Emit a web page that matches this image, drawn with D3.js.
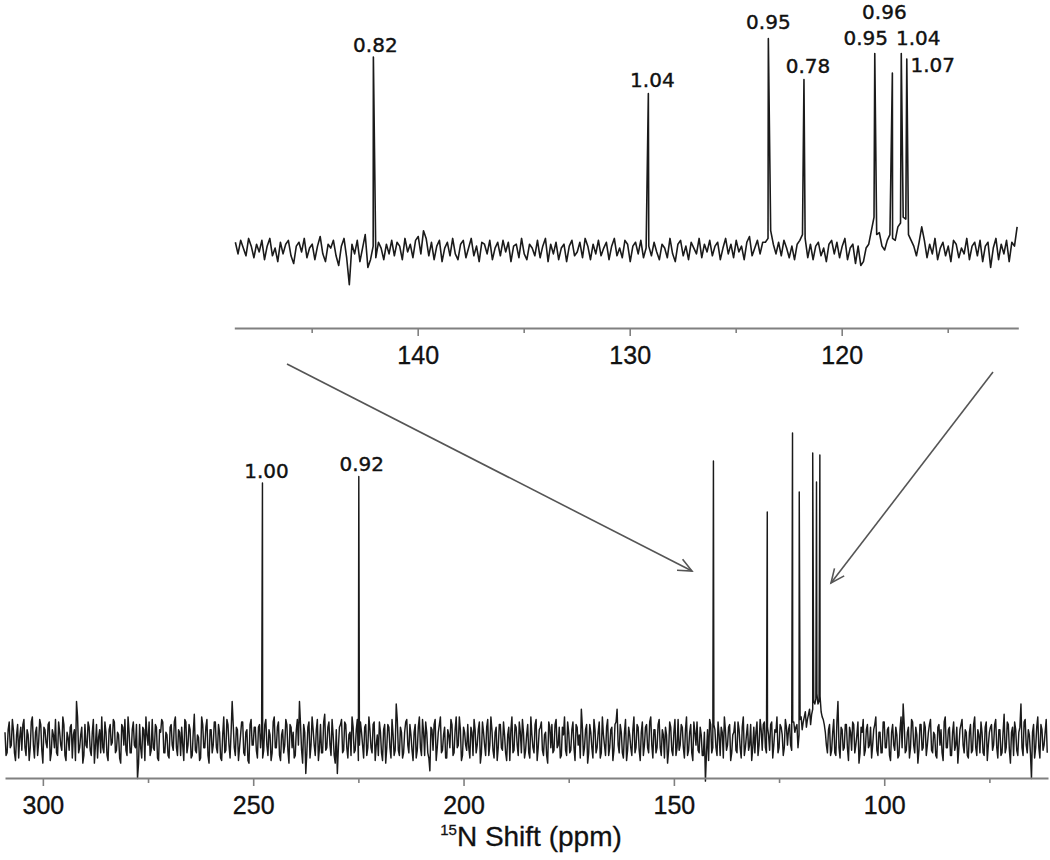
<!DOCTYPE html>
<html><head><meta charset="utf-8">
<script src="https://cdn.jsdelivr.net/npm/d3@7"></script>
<style>body{margin:0;background:#fff}</style>
</head><body><svg id="chart" width="1050" height="860"></svg>
<script>
// ---------- DATA ----------
// Main spectrum: baseline noise sampled every 0.5 ppm starting at 309 ppm (intensity units: peak "1.00" = 100)
const mainNoiseStart = 309, mainNoiseStep = 0.5;
const mainNoise = [
 3,-5,7,-2,4,-8,6,1,-4,8,-6,2,-3,9,-7,5,-1,6,-9,4,
 -3,7,-5,2,8,-6,3,-4,6,-8,1,5,-7,4,15,-5,2,-9,6,-3,
 5,-6,8,-2,-7,4,9,-5,3,-8,6,-1,7,-4,2,-9,5,8,-6,3,
 -5,7,-3,-15,6,-7,4,9,-2,-6,8,-4,5,-8,3,7,-5,2,-7,6,
 -4,9,-6,3,5,-8,7,-2,4,-6,10,-5,1,-7,6,-3,8,-9,4,-2,
 7,-5,3,-8,9,-4,6,-7,15,-3,5,-8,2,7,-6,4,-9,8,-2,5,
 -7,6,3,-4,8,-6,2,-5,9,-3,7,-8,4,-2,6,-9,5,3,-6,8,
 15,-4,6,-13,5,-7,9,-2,4,-8,6,-5,10,-3,7,-6,2,-9,-13,5,
 8,-4,6,-7,3,9,-5,4,-8,7,-2,5,-6,9,-3,6,-8,2,7,-5,
 4,-9,6,-3,8,-6,14,-4,5,-7,3,8,-5,2,-8,6,-4,9,-6,3,
 7,-5,-12,4,6,-8,3,9,-4,5,-7,2,8,-6,4,-3,9,-8,5,-2,
 6,-7,3,8,-5,4,-9,7,-2,5,-6,9,-4,3,-8,6,-3,7,-5,2,
 -8,9,-4,5,-6,3,8,-7,2,-5,9,-3,6,-8,4,7,-6,3,-9,5,
 6,-4,8,-2,-7,5,9,-6,3,-4,7,-8,5,2,12,-6,4,-9,6,-3,
 8,-5,3,-7,9,-2,5,-6,4,-8,6,12,-5,3,-7,8,-4,2,-6,9,
 -3,5,-8,7,-2,6,-5,9,-7,4,-3,8,-6,2,5,-9,7,-4,3,-6,
 8,-2,5,-7,9,-4,6,-8,3,7,-5,2,-6,-16,4,8,-5,6,-3,7,
 -6,3,9,-4,5,-8,2,7,-5,4,-7,9,-3,6,-2,-8,5,3,-6,8,
 -4,7,-5,2,6,-7,4,9,-3,5,-6,8,-2,6,-4,7,5,-3,8,4,
 9,5,10,6,12,14,18,15,11,8,3,-5,6,-4,8,-6,15,-7,4,-3,
 6,-8,3,7,-5,2,-9,5,8,-4,6,-2,-7,4,9,-6,3,-5,7,-3,
 5,-8,6,-4,2,-6,9,14,-5,3,-7,8,-2,5,-9,6,-4,7,-6,3,
 8,-5,2,-7,6,4,-8,9,-3,5,-6,7,-2,-9,4,8,-5,3,-7,6,
 -4,9,-6,2,7,-5,5,-8,3,6,-2,8,-7,4,-5,10,-3,6,-9,5,
 7,-4,3,14,-6,8,-5,2,-15,6,-3,9,-7,4,-2,8
];
// Main spectrum: interleaved noise samples at the half-steps (starting 308.75 ppm, every 0.5 ppm)
const mainNoiseMidStart = 308.75;
const mainNoiseMid = [
 -6,4,-3,8,-5,2,-7,5,6,-3,4,-8,7,-2,3,-6,8,-4,5,-1,
 6,-8,4,-3,-5,7,-2,9,-6,3,-4,6,2,-8,9,-3,5,-6,-2,7,
 -4,3,-9,6,1,-5,-3,7,-6,4,-2,8,-5,3,-7,6,-2,-4,9,-5,
 4,-2,6,-9,-3,5,-8,2,7,-4,-3,6,-7,4,8,-5,3,-6,5,-2,
 7,-3,4,-6,-2,8,-5,6,-7,3,-4,2,-8,9,-3,5,-6,4,-5,7,
 -3,6,-7,2,-5,8,-2,3,6,-6,4,-3,7,-5,3,-8,6,-2,5,-4,
 5,-3,-7,6,-2,4,-8,7,-3,5,-6,2,-5,8,-4,6,-3,-7,4,-2,
 6,-9,3,-5,7,-2,4,-6,8,-3,-5,7,-4,5,-2,8,-6,4,-3,6,
 -5,7,-3,2,-6,5,-4,8,-2,3,-7,6,-3,4,-5,7,-2,-6,3,-8,
 6,-3,5,-7,2,-4,8,-6,3,-5,7,-2,6,-4,3,-7,5,-3,8,-6,
 3,-7,5,-4,8,-3,6,-5,2,-7,4,-3,6,-5,9,-2,4,-6,3,-4,
 -3,5,-6,4,-2,7,-5,3,-6,8,-2,4,-7,5,-3,6,-4,2,-8,5,
 4,-5,6,-2,7,-5,3,-4,6,-7,2,-5,8,-3,5,-4,2,-6,7,-3,
 -5,6,-3,5,-6,2,-4,7,-5,4,-3,6,-2,-7,5,-3,6,-5,3,-7,
 4,-3,7,-5,2,-6,8,-3,5,-4,7,-2,6,-5,3,-8,5,-3,4,-5,
 6,-4,3,-6,5,-3,7,-2,4,-5,6,-3,4,-7,2,-4,5,-6,8,-3,
 -4,6,-3,4,-6,3,-5,7,-2,-4,5,-6,3,-5,-8,6,-3,4,-6,2,
 5,-7,4,-2,6,-5,3,-4,7,-3,5,-6,2,-4,6,-3,-5,7,-2,4,
 6,-3,5,-4,7,-2,3,-5,6,2,-3,5,4,-2,7,3,6,2,9,7,
 11,8,12,10,15,16,14,17,9,6,-2,4,-6,3,-5,7,-3,5,-4,6,
 -3,5,-4,6,-2,7,-5,3,-6,4,-3,5,-2,6,-4,3,-5,7,-3,4,
 -6,3,-2,5,-7,4,-3,6,-4,5,-3,7,-5,2,-4,6,-3,5,-2,6,
 -4,3,-6,5,-2,-5,7,-3,4,-6,3,-4,5,-3,6,-2,4,-6,3,-5,
 6,-3,4,-5,3,-6,7,-2,5,-4,6,-3,4,-6,3,-5,7,-4,3,-6,
 4,-6,5,-3,7,-2,4,-5,3,-7,5,-3,6,-4,3,-5
];
const mainPeakShifts  = [247.8, 224.9, 140.6, 127.8, 121.8, 120.2, 117.0, 116.1, 115.3];
const mainPeakHeights = [100, 102.5, 108.6, 88.7, 119.5, 96.5, 111.7, 100.4, 110.9];
const mainPeakLabels  = ["1.00", "0.92"];
const mainTicks = [300, 250, 200, 150, 100];
const mainMinorTicks = [275, 225, 175, 125, 75];

// Inset (expanded 148-112 ppm): noise sampled every 0.125 ppm from 148.6 ppm (intensity: 142 ppm peak = 100)
const insetNoiseStart = 148.6, insetNoiseStep = 0.125;
const insetNoise = [
 4,-2,5,1,-3,6,2,-4,3,-1,5,-5,2,6,-3,1,-6,4,-2,3,
 5,-3,-7,2,4,-1,6,-4,1,3,-5,2,7,-2,-6,3,1,5,-3,-8,
 2,6,-4,-18,3,-2,5,-6,1,8,-9,-5,2,-4,4,1,-5,3,-2,5,
 -3,4,2,-5,6,-1,3,-4,5,7,-2,10,6,-3,4,-5,2,5,-6,1,
 4,-3,6,-2,-5,3,5,-4,1,6,-3,2,-6,4,3,-2,5,-5,1,4,
 -3,5,-1,4,-6,2,3,-4,6,-2,-5,3,1,-3,5,-4,2,6,-6,3,
 -2,4,-5,1,3,-6,2,5,-3,-1,4,-4,6,2,-5,3,-2,5,-3,1,
 4,-5,2,6,-3,1,-4,5,3,-6,2,4,-2,5,-4,1,2,-3,4,-1,
 -5,3,1,-4,6,-2,-6,3,5,-3,2,-5,4,1,-2,6,-4,3,-1,5,
 -3,2,4,-5,1,6,-2,3,-4,5,-1,2,-5,4,7,-3,1,5,-2,4,
 4,6,10,3,-2,4,-3,5,1,-4,2,-5,3,5,8,6,-4,3,-5,2,
 4,-3,1,-6,3,5,-2,4,-4,2,6,-5,1,3,-7,2,-8,-6,1,3,
 10,17,8,9,2,0,5,8,6,5,12,14,17,16,8,5,2,-3,4,12,
 5,-4,3,-2,6,-5,1,4,-3,2,-6,5,3,-4,1,-2,6,-5,2,4,
 -3,5,-6,2,4,-9,1,6,-5,3,-2,5,-6,4,2,12
];
const insetPeakShifts  = [142.09, 129.12, 123.46, 121.78, 118.44, 117.61, 117.19, 116.93];
const insetPeakHeights = [100, 81, 109.5, 88.3, 101.8, 91.7, 101.8, 99];
const insetPeakLabels  = ["0.82", "1.04", "0.95", "0.78", "0.95", "0.96", "1.04", "1.07"];
const insetTicks = [140, 130, 120];
const insetMinorTicks = [145, 135, 125, 115];

// ---------- LAYOUT ----------
const svg = d3.select("#chart");
const axisColor = "#808080";
const traceColor = "#1a1a1a";
const tickFont = "'Liberation Sans', Arial, Helvetica, sans-serif";
const labelFont = "'DejaVu Sans', 'Lucida Grande', sans-serif";

const xMain = d3.scaleLinear().domain([309, 61.07]).range([5, 1048]);
const yMain = d3.scaleLinear().domain([0, 100]).range([740, 483]);
const mainAxisY = 778;

const xInset = d3.scaleLinear().domain([148.65, 111.67]).range([234.3, 1018.3]);
const yInset = d3.scaleLinear().domain([0, 100]).range([250, 57]);
const insetAxisY = 328;

function samples(start, step, noise) {
  return noise.map((v, i) => ({ ppm: start - i * step, v: v }));
}
function buildSpectrum(sampleSets, shifts, heights) {
  const pts = [].concat(...sampleSets);
  shifts.forEach((s, k) => pts.push({ ppm: s, v: heights[k] }));
  pts.sort((a, b) => b.ppm - a.ppm);
  return pts;
}

// ---------- INSET ----------
const insetData = buildSpectrum([samples(insetNoiseStart, insetNoiseStep, insetNoise)], insetPeakShifts, insetPeakHeights);
svg.append("path")
  .datum(insetData)
  .attr("fill", "none")
  .attr("stroke", traceColor)
  .attr("stroke-width", 1.6)
  .attr("stroke-linejoin", "round")
  .attr("d", d3.line().x(d => xInset(d.ppm)).y(d => yInset(d.v)));

function styleAxis(g, size) {
  g.select(".domain").attr("stroke", axisColor).attr("stroke-width", 2.2);
  g.selectAll(".tick line").attr("stroke", axisColor).attr("stroke-width", 1.6);
  g.selectAll(".tick text").attr("fill", "#111").attr("font-family", tickFont).attr("font-size", size)
    .attr("stroke", "#111").attr("stroke-width", 0.35);
}

const insetAxisG = svg.append("g").attr("transform", `translate(0,${insetAxisY})`)
  .call(d3.axisBottom(xInset).tickValues(insetTicks).tickSize(8).tickSizeOuter(0).tickPadding(10).tickFormat(d3.format("d")));
styleAxis(insetAxisG, 25);
const insetMinorG = svg.append("g").attr("transform", `translate(0,${insetAxisY})`)
  .call(d3.axisBottom(xInset).tickValues(insetMinorTicks).tickSize(5).tickSizeOuter(0).tickFormat(""));
insetMinorG.select(".domain").remove();
insetMinorG.selectAll(".tick line").attr("stroke", axisColor).attr("stroke-width", 1.6);

// inset peak labels (offsets/baselines are layout)
const insetLabelLayout = [
  { dx: 2, y: 52 }, { dx: 4, y: 87 }, { dx: 0, y: 29 }, { dx: 4, y: 73 },
  { dx: -9, y: 45 }, { dx: -8, y: 19 }, { dx: 17, y: 45 }, { dx: 26, y: 72 }
];
svg.append("g").selectAll("text")
  .data(insetPeakLabels)
  .join("text")
  .attr("x", (d, i) => xInset(insetPeakShifts[i]) + insetLabelLayout[i].dx)
  .attr("y", (d, i) => insetLabelLayout[i].y)
  .attr("text-anchor", "middle")
  .attr("font-family", labelFont)
  .attr("font-size", 20)
  .attr("fill", "#111")
  .attr("stroke", "#111").attr("stroke-width", 0.4)
  .text(d => d);

// ---------- MAIN ----------
const mainData = buildSpectrum(
  [samples(mainNoiseStart, mainNoiseStep, mainNoise), samples(mainNoiseMidStart, mainNoiseStep, mainNoiseMid)],
  mainPeakShifts, mainPeakHeights);
svg.append("path")
  .datum(mainData)
  .attr("fill", "none")
  .attr("stroke", traceColor)
  .attr("stroke-width", 1.45)
  .attr("stroke-linejoin", "round")
  .attr("d", d3.line().x(d => xMain(d.ppm)).y(d => yMain(d.v)));

const mainAxisG = svg.append("g").attr("transform", `translate(0,${mainAxisY})`)
  .call(d3.axisBottom(xMain).tickValues(mainTicks).tickSize(8).tickSizeOuter(0).tickPadding(10).tickFormat(d3.format("d")));
styleAxis(mainAxisG, 25);
const mainMinorG = svg.append("g").attr("transform", `translate(0,${mainAxisY})`)
  .call(d3.axisBottom(xMain).tickValues(mainMinorTicks).tickSize(5).tickSizeOuter(0).tickFormat(""));
mainMinorG.select(".domain").remove();
mainMinorG.selectAll(".tick line").attr("stroke", axisColor).attr("stroke-width", 1.6);

const mainLabelLayout = [{ dx: 4, y: 478 }, { dx: 3, y: 471 }];
svg.append("g").selectAll("text")
  .data(mainPeakLabels)
  .join("text")
  .attr("x", (d, i) => xMain(mainPeakShifts[i]) + mainLabelLayout[i].dx)
  .attr("y", (d, i) => mainLabelLayout[i].y)
  .attr("text-anchor", "middle")
  .attr("font-family", labelFont)
  .attr("font-size", 20)
  .attr("fill", "#111")
  .attr("stroke", "#111").attr("stroke-width", 0.4)
  .text(d => d);

// axis title
const title = svg.append("text")
  .attr("x", 531).attr("y", 846)
  .attr("text-anchor", "middle")
  .attr("font-family", tickFont)
  .attr("font-size", 28)
  .attr("fill", "#111")
  .attr("stroke", "#111").attr("stroke-width", 0.3);
title.append("tspan").attr("font-size", 15).attr("dy", -11).text("15");
title.append("tspan").attr("dy", 11).text("N Shift (ppm)");

// ---------- ARROWS ----------
const arrowColor = "#555";
function arrow(x1, y1, x2, y2) {
  svg.append("line").attr("x1", x1).attr("y1", y1).attr("x2", x2).attr("y2", y2)
    .attr("stroke", arrowColor).attr("stroke-width", 1.6);
  const ang = Math.atan2(y2 - y1, x2 - x1), len = 15, spread = 0.42;
  const p1 = [x2 - len * Math.cos(ang - spread), y2 - len * Math.sin(ang - spread)];
  const p2 = [x2 - len * Math.cos(ang + spread), y2 - len * Math.sin(ang + spread)];
  svg.append("path").attr("d", `M${p1[0]},${p1[1]}L${x2},${y2}L${p2[0]},${p2[1]}`)
    .attr("fill", "none").attr("stroke", arrowColor).attr("stroke-width", 1.6);
}
arrow(287, 364, 692, 571);
arrow(993, 372, 831, 583);
</script></body></html>
